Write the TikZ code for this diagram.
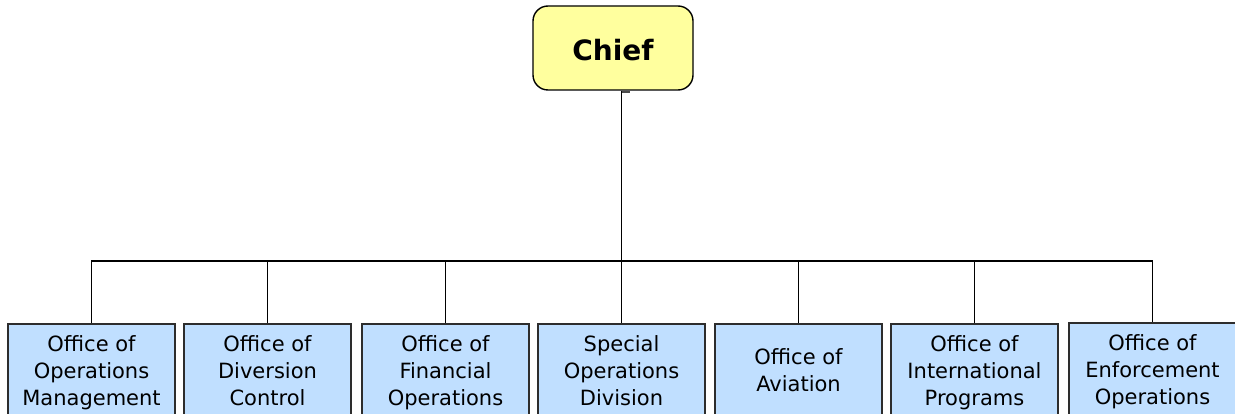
\documentclass[tikz,border=0pt]{standalone}
\usepackage{fontspec}
\setmainfont{DejaVu Sans}
\begin{document}
\begin{tikzpicture}[x=1pt,y=-1pt,
  chiefbox/.style={draw=black, line width=1.4pt, fill=chiefyellow, rounded corners=15pt,
    minimum width=160pt, minimum height=84pt, inner sep=0pt,
    text height=26pt, text depth=0pt,
    font=\fontsize{28}{32}\selectfont\bfseries},
  unitbox/.style={draw=boxedge, line width=1.5pt, fill=unitblue,
    minimum width=167pt, minimum height=98pt, inner sep=0pt,
    align=center, font=\fontsize{21}{27}\selectfont},
  link/.style={draw=black, line width=1.1pt}]
\definecolor{chiefyellow}{RGB}{255,255,158}
\definecolor{unitblue}{RGB}{192,223,255}
\definecolor{boxedge}{RGB}{45,45,45}
\useasboundingbox (0,0) rectangle (1235,414);
\clip (0,0) rectangle (1235,414);

% chief
\node[chiefbox] (chief) at (613,48) {Chief};

% units (struts keep the baselines the same in every box)
\node[unitbox] (b1) at (91.5,373) {\strut Office of\\Operations\\Management\strut};
\node[unitbox] (b2) at (267.5,373) {\strut Office of\\Diversion\\Control\strut};
\node[unitbox] (b3) at (445.5,373) {\strut Office of\\Financial\\Operations\strut};
\node[unitbox] (b4) at (621.5,373) {\strut Special\\Operations\\Division\strut};
\node[unitbox] (b5) at (798.5,373) {\strut Office of\\Aviation\strut};
\node[unitbox] (b6) at (974.5,373) {\strut Office of\\International\\Programs\strut};
\node[unitbox] (b7) at (1152.5,372) {\strut Office of\\Enforcement\\Operations\strut};

% connectors
\coordinate (bus) at (0,261);
\draw[link] (chief.south -| b4.north) -- (b4.north);
\draw[gray!60!black, line width=1.6pt] (chief.south -| b4.north) ++(0,1.5) -- ++(8,0);
\draw[link] (b1.north) -- (b1.north |- bus) -- (b7.north |- bus) -- (b7.north);
\foreach \b in {b2,b3,b5,b6}
  \draw[link] (\b.north) -- (\b.north |- bus);
\end{tikzpicture}
\end{document}
